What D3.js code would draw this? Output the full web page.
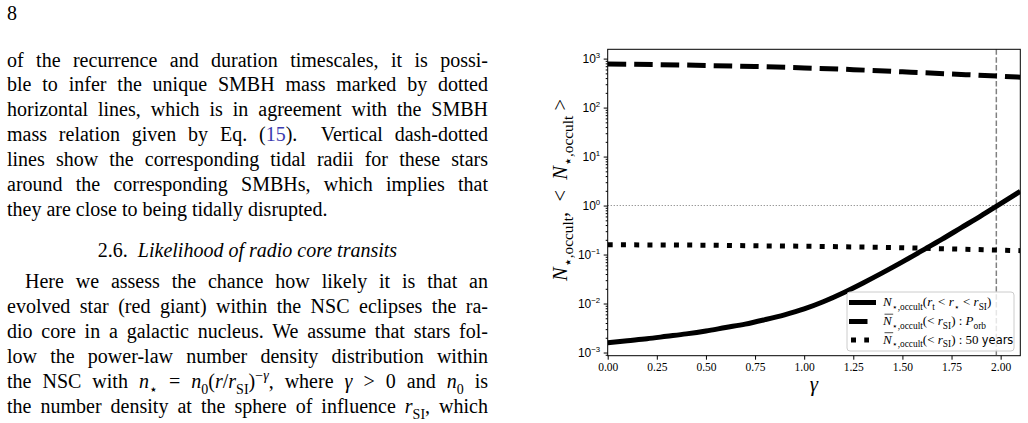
<!DOCTYPE html>
<html lang="en">
<head>
<meta charset="UTF-8">
<title>Occulting stars vs gamma</title>
<script src="https://d3js.org/d3.v7.min.js"></script>
<style>
  body { margin: 0; background: #fff; }
  svg text { white-space: pre; }
</style>
</head>
<body>
<script>
var W = 1028, H = 423;

// values
var gammaFine = [0.0, 0.1, 0.2, 0.3, 0.4, 0.5, 0.6, 0.7, 0.8, 0.9, 1.0,
                 1.1, 1.2, 1.3, 1.4, 1.5, 1.6, 1.7, 1.8, 1.9, 2.0, 2.1];
var nOccultShell = [1.58e-3, 1.74e-3, 1.91e-3, 2.14e-3, 2.4e-3, 2.75e-3, 3.24e-3, 3.8e-3, 4.68e-3, 5.89e-3, 7.76e-3,
                    1.1e-2, 1.66e-2, 2.63e-2, 4.27e-2, 7.08e-2, 0.12, 0.204, 0.355, 0.617, 1.1, 1.95];
var gammaCoarse = [0, 0.25, 0.5, 0.75, 1.0, 1.25, 1.5, 1.75, 2.0, 2.1];
var nOccultOrb = [776, 755, 724, 690, 646, 595, 537, 485, 437, 417];
var nOccult50yr = [0.158, 0.157, 0.155, 0.151, 0.148, 0.143, 0.138, 0.130, 0.123, 0.120];
var gammaTidal = 1.978;   // vertical dashed line
var nUnity = 1;           // horizontal dotted line
var xTicks = [0, 0.25, 0.5, 0.75, 1.0, 1.25, 1.5, 1.75, 2.0];
var yExponents = [-3, -2, -1, 0, 1, 2, 3];

// page text
var para1 = [
  "of the recurrence and duration timescales, it is possi-",
  "ble to infer the unique SMBH mass marked by dotted",
  "horizontal lines, which is in agreement with the SMBH",
  [["mass relation given by Eq. ("], ["15", "link"], [").  Vertical dash-dotted"]],
  "lines show the corresponding tidal radii for these stars",
  "around the corresponding SMBHs, which implies that",
  "they are close to being tidally disrupted."
];
var para2 = [
  "Here we assess the chance how likely it is that an",
  "evolved star (red giant) within the NSC eclipses the ra-",
  "dio core in a galactic nucleus. We assume that stars fol-",
  "low the power-law number density distribution within",
  [["the NSC with "], ["n", "i"], ["\u22c6", "sub"], [" = "], ["n", "i"], ["0", "sub"], ["("], ["r", "i"], ["/"],
   ["r", "i"], ["SI", "sub"], [")"], ["\u2212", "sup"], ["\u03b3", "sup i"], [", where "], ["\u03b3", "i"],
   [" > 0 and "], ["n", "i"], ["0", "sub"], [" is"]],
  [["the number density at the sphere of influence "], ["r", "i"], ["SI", "sub"], [", which"]]
];

var serif = "'Liberation Serif', 'DejaVu Serif', serif";

var svg = d3.select("body").append("svg")
    .attr("width", W)
    .attr("height", H)
    .attr("font-family", serif);

// write a line made of segments; k holds flags: i, sub, sup, link, sans
function rich(t, segs, size, subScale) {
  var sc = subScale || 0.7;
  var off = 0;
  segs.forEach(function (s) {
    var k = s[1] || "";
    var target = k.indexOf("sub") >= 0 ? 0.28 * size : (k.indexOf("sup") >= 0 ? -0.42 * size : 0);
    var ts = t.append("tspan").attr("dy", target - off).text(s[0]);
    off = target;
    if (target !== 0) ts.attr("font-size", size * sc);
    if (k.indexOf("i") >= 0 && k.indexOf("link") < 0) ts.attr("font-style", "italic");
    if (k.indexOf("link") >= 0) ts.attr("fill", "#3b3bb0");
    if (k.indexOf("sans") >= 0) ts.attr("font-family", "'DejaVu Sans', sans-serif").attr("font-size", size * 0.88);
  });
  return t;
}

function justify(t, width) {
  var node = t.node();
  var n = node.getComputedTextLength();
  var spaces = (node.textContent.match(/ /g) || []).length;
  if (spaces) t.attr("word-spacing", (width - n) / spaces);
}

// ---- left column text ----
var colL = 7, colR = 488, fs = 20;

svg.append("text").attr("x", colL).attr("y", 20).attr("font-size", fs).text("8");

function drawPara(lines, y0, step, indent, lastJustified) {
  lines.forEach(function (line, i) {
    var x = colL + (i === 0 ? indent : 0);
    var t = svg.append("text").attr("x", x).attr("y", y0 + i * step).attr("font-size", fs);
    rich(t, typeof line === "string" ? [[line]] : line, fs);
    if (i < lines.length - 1 || lastJustified) justify(t, colR - x);
  });
}
drawPara(para1, 66.5, 24.85, 0, false);
drawPara(para2, 288.3, 25, 18, true);

var head = svg.append("text")
    .attr("x", (colL + colR) / 2)
    .attr("y", 256.5)
    .attr("font-size", fs)
    .attr("text-anchor", "middle");
rich(head, [["2.6.  "], ["Likelihood of radio core transits", "i"]], fs);

// ---- chart ----
var plotL = 607.7, plotR = 1020.3, plotT = 49.3, plotB = 355.7;

var x = d3.scaleLinear().domain([0, 2.1]).range([plotL, plotR]);
var y = d3.scaleLog().domain([Math.pow(10, -3.065), Math.pow(10, 3.19)]).range([plotB, plotT]);

svg.append("clipPath").attr("id", "plot")
  .append("rect")
    .attr("x", plotL).attr("y", plotT)
    .attr("width", plotR - plotL).attr("height", plotB - plotT);

var plot = svg.append("g").attr("clip-path", "url(#plot)");

// reference lines
plot.append("line")
    .attr("x1", plotL).attr("x2", plotR)
    .attr("y1", y(nUnity)).attr("y2", y(nUnity))
    .attr("stroke", "#808080").attr("stroke-width", 1.1)
    .attr("stroke-dasharray", "1.1,1.9");
plot.append("line")
    .attr("x1", x(gammaTidal)).attr("x2", x(gammaTidal))
    .attr("y1", plotT).attr("y2", plotB)
    .attr("stroke", "#808080").attr("stroke-width", 1.5)
    .attr("stroke-dasharray", "5.5,2.4");

var line = d3.line()
    .x(function (d) { return x(d[0]); })
    .y(function (d) { return y(d[1]); })
    .curve(d3.curveMonotoneX);

var series = [
  { g: gammaFine, v: nOccultShell, dash: null, hx1: 849, hx2: 876 },
  { g: gammaCoarse, v: nOccultOrb, dash: "18.5,8", hx1: 849, hx2: 872 },
  { g: gammaCoarse, v: nOccult50yr, dash: "5,8.25", hx1: 851, hx2: 869 }
];

series.forEach(function (s) {
  plot.append("path")
      .attr("d", line(d3.zip(s.g, s.v)))
      .attr("fill", "none")
      .attr("stroke", "#000")
      .attr("stroke-width", 5)
      .attr("stroke-dasharray", s.dash);
});

// axes
var xAxis = svg.append("g")
    .attr("transform", "translate(0," + plotB + ")")
    .call(d3.axisBottom(x).tickValues(xTicks).tickSize(4).tickSizeOuter(0).tickPadding(3.5)
      .tickFormat(d3.format(".2f")));
xAxis.select(".domain").remove();
xAxis.selectAll("text").attr("font-family", serif).attr("font-size", 11.5).attr("fill", "#000");

var minors = [];
for (var e = -4; e <= 3; e++) {
  for (var m = 2; m <= 9; m++) {
    var v = m * Math.pow(10, e);
    if (v >= y.domain()[0] && v <= y.domain()[1]) minors.push(v);
  }
}
var yMinor = svg.append("g")
    .attr("transform", "translate(" + plotL + ",0)")
    .call(d3.axisLeft(y).tickValues(minors).tickSize(2).tickSizeOuter(0).tickFormat(""));
yMinor.select(".domain").remove();

var yAxis = svg.append("g")
    .attr("transform", "translate(" + plotL + ",0)")
    .call(d3.axisLeft(y).tickValues(yExponents.map(function (k) { return Math.pow(10, k); }))
      .tickSize(4).tickSizeOuter(0).tickPadding(3.5).tickFormat(""));
yAxis.select(".domain").remove();
yAxis.selectAll(".tick").each(function (d, i) {
  var k = yExponents[i];
  var t = d3.select(this).append("text")
      .attr("x", -7.5).attr("y", 4)
      .attr("text-anchor", "end")
      .attr("font-size", 12)
      .attr("fill", "#000");
  rich(t, [["10"], [(k < 0 ? "\u2212" : "") + Math.abs(k), "sup"]], 12, 0.65);
});

svg.append("rect")
    .attr("x", plotL).attr("y", plotT)
    .attr("width", plotR - plotL).attr("height", plotB - plotT)
    .attr("fill", "none").attr("stroke", "#000").attr("stroke-width", 1);

// axis labels
svg.append("text")
    .attr("x", (plotL + plotR) / 2).attr("y", 391)
    .attr("text-anchor", "middle")
    .attr("font-size", 21)
    .attr("font-style", "italic")
    .text("\u03b3");

var yl = svg.append("text")
    .attr("transform", "translate(567,190) rotate(-90)")
    .attr("text-anchor", "middle")
    .attr("font-size", 20.5);
rich(yl, [["N", "i"], ["\u22c6,occult", "sub"], [",  <  "], ["N", "i"], ["\u22c6,occult", "sub"], [" >"]], 20.5, 0.75);

// legend
var lg = svg.append("g");
lg.append("rect")
    .attr("x", 847).attr("y", 292).attr("width", 167).attr("height", 59).attr("rx", 3)
    .attr("fill", "#fff").attr("fill-opacity", 0.8)
    .attr("stroke", "#cccccc").attr("stroke-width", 1);

var legendLabels = [
  [["N", "i"], ["\u22c6,occult", "sub"], ["("], ["r", "i"], ["t", "sub"], [" < "], ["r", "i"], ["\u22c6", "sub"],
   [" < "], ["r", "i"], ["SI", "sub"], [")"]],
  [["N", "i"], ["\u22c6,occult", "sub"], ["(< "], ["r", "i"], ["SI", "sub"], [") : "], ["P", "i"], ["orb", "sub"]],
  [["N", "i"], ["\u22c6,occult", "sub"], ["(< "], ["r", "i"], ["SI", "sub"], [") : 50 "], ["years", "sans"]]
];
var rowY = [302.5, 321.5, 340];
var lfs = 13;

series.forEach(function (s, i) {
  lg.append("line")
      .attr("x1", s.hx1).attr("x2", s.hx2)
      .attr("y1", rowY[i]).attr("y2", rowY[i])
      .attr("stroke", "#000").attr("stroke-width", 5)
      .attr("stroke-dasharray", s.dash);
  var t = lg.append("text")
      .attr("x", 883).attr("y", rowY[i] + 3.5)
      .attr("font-size", lfs);
  rich(t, legendLabels[i], lfs, 0.72);
  if (i > 0) {
    var n = t.node();
    var a = n.getStartPositionOfChar(0).x, b = n.getEndPositionOfChar(0).x;
    lg.append("line")
        .attr("x1", a + 1.5).attr("x2", b + 1.5)
        .attr("y1", rowY[i] + 3.5 - 10.8).attr("y2", rowY[i] + 3.5 - 10.8)
        .attr("stroke", "#000").attr("stroke-width", 0.7);
  }
});
</script>
</body>
</html>
